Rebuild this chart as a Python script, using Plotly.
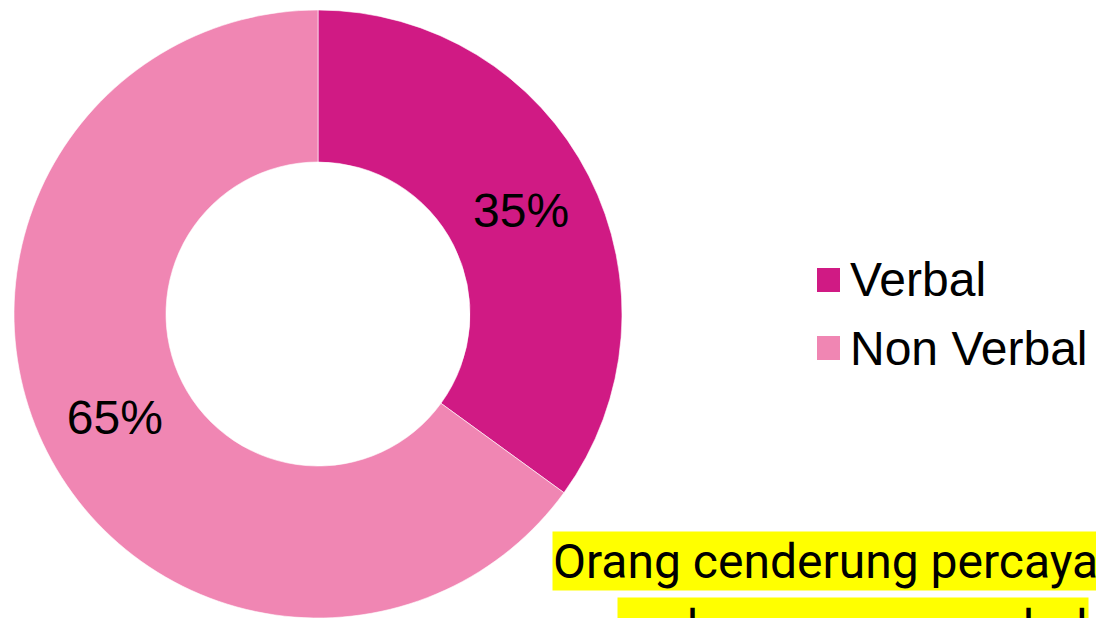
import plotly.graph_objects as go

# ---- data ----
labels = ["Verbal", "Non Verbal"]
values = [35, 65]
colors = ["#D01A84", "#F086B3"]
note_lines = ["Orang cenderung percaya", "pada pesan nonverbal"]

W, H = 1096, 618


def px(x):
    return x / W


def py(y):
    return 1 - y / H


cx, cy, r = 318, 314, 304

fig = go.Figure(
    go.Pie(
        labels=labels,
        values=values,
        hole=0.5,
        sort=False,
        direction="clockwise",
        rotation=0,
        marker=dict(colors=colors, line=dict(color="white", width=0.6)),
        textinfo="percent",
        texttemplate="%{percent:.0%}",
        textposition="inside",
        insidetextorientation="horizontal",
        textfont=dict(family="Liberation Sans, Arial, sans-serif", size=48, color="black"),
        showlegend=False,
        hoverinfo="label+percent",
        domain=dict(x=[px(cx - r), px(cx + r)], y=[py(cy + r), py(cy - r)]),
    )
)

shapes = []
annotations = []
# custom legend (big square swatches like the reference)
row_y = [280, 348]
for i, (lab, col) in enumerate(zip(labels, colors)):
    yc = row_y[i]
    shapes.append(dict(type="rect", xref="paper", yref="paper",
                       x0=px(817), x1=px(840), y0=py(yc + 12), y1=py(yc - 12),
                       fillcolor=col, line=dict(width=0)))
    annotations.append(dict(text=lab, xref="paper", yref="paper",
                            x=px(848), y=py(yc), xanchor="left", yanchor="middle",
                            showarrow=False,
                            font=dict(family="Liberation Sans, Arial, sans-serif", size=48, color="black")))

# highlighted note text (clipped at the right edge like the reference)
note_left = [552, 617]
note_top = [531, 597]
for i, line in enumerate(note_lines):
    annotations.append(dict(text=line, xref="paper", yref="paper",
                            x=px(note_left[i]), y=py(note_top[i]),
                            xanchor="left", yanchor="top", showarrow=False,
                            bgcolor="#FFFF00", borderpad=0, height=58,
                            font=dict(family="Roboto, sans-serif", size=48, color="black")))

fig.update_layout(
    width=W, height=H,
    margin=dict(l=0, r=0, t=0, b=0),
    paper_bgcolor="white",
    plot_bgcolor="white",
    shapes=shapes,
    annotations=annotations,
)

fig.write_html("out.html")
